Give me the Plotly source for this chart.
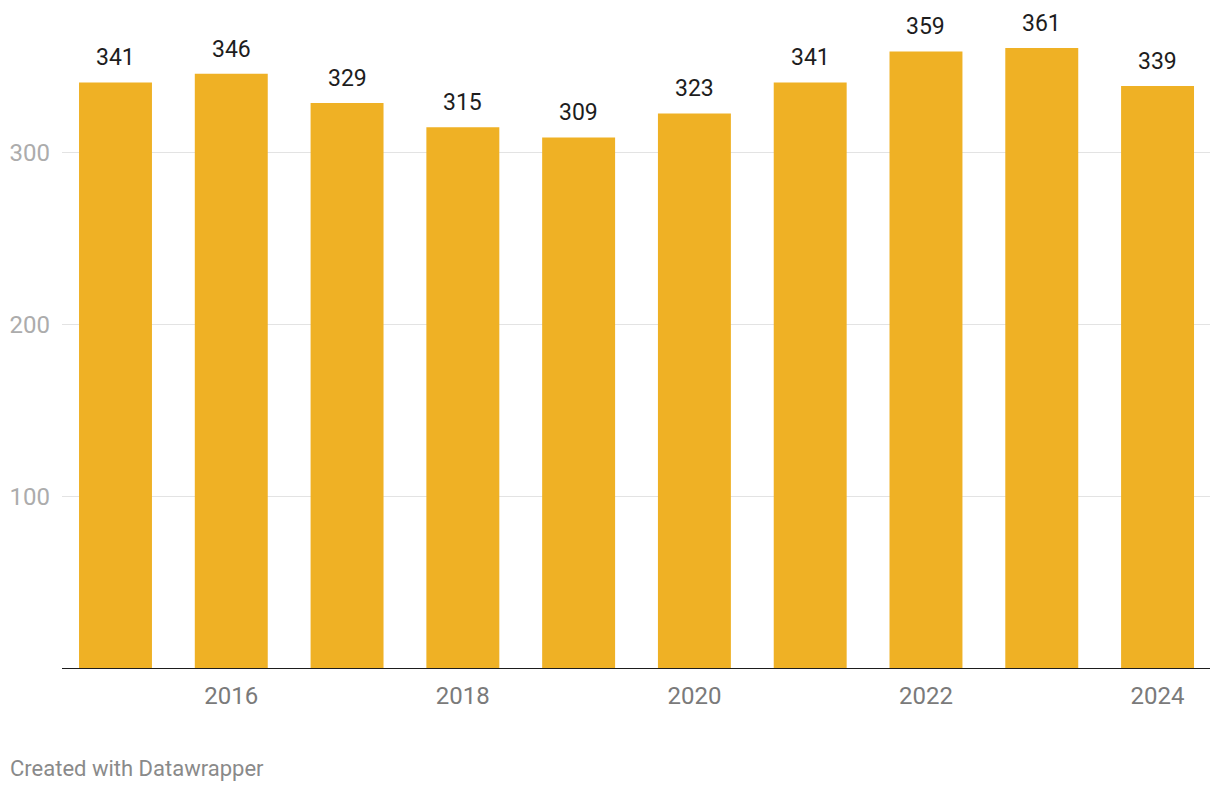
import plotly.graph_objects as go

years = [2015, 2016, 2017, 2018, 2019, 2020, 2021, 2022, 2023, 2024]
values = [341, 346, 329, 315, 309, 323, 341, 359, 361, 339]
x_tick_vals = [2016, 2018, 2020, 2022, 2024]
x_tick_text = ["2016", "2018", "2020", "2022", "2024"]
y_tick_vals = [100, 200, 300]
y_tick_text = ["100", "200", "300"]

BAR = "#efb125"
FONT = "Roboto, sans-serif"

fig = go.Figure()
fig.add_trace(go.Bar(x=years, y=values, marker=dict(color=BAR, line=dict(width=0)),
                     width=0.63, hoverinfo="skip"))

for xv, yv in zip(years, values):
    fig.add_annotation(x=xv, y=yv, text=str(yv), showarrow=False, yanchor="bottom",
                       yshift=9, font=dict(family=FONT, size=23, color="#1d1d1d"))

fig.add_annotation(xref="paper", yref="paper", x=0, y=0, xanchor="left", yanchor="middle",
                   text="Created with Datawrapper", showarrow=False,
                   xshift=-54, yshift=-99, font=dict(family=FONT, size=22, color="#8a8a8a"))

fig.update_layout(
    width=1220, height=792,
    margin=dict(l=62, r=10, t=9, b=123),
    paper_bgcolor="white", plot_bgcolor="white",
    showlegend=False,
    font=dict(family=FONT),
    xaxis=dict(range=[2015 - 0.462, 2024 + 0.453], tickvals=x_tick_vals, ticktext=x_tick_text,
               showgrid=False, zeroline=False, showline=False, ticks="",
               tickfont=dict(size=24, color="#7a7a7a"), ticklabelstandoff=10),
    yaxis=dict(range=[0, 383.7], tickvals=y_tick_vals, ticktext=y_tick_text,
               showgrid=True, gridcolor="#e3e3e3", gridwidth=1, zeroline=False, showline=False,
               ticks="", tickfont=dict(size=24, color="#acacac"), ticklabelstandoff=11),
)
fig.add_shape(type="line", xref="paper", yref="y", x0=0, x1=1, y0=0, y1=0,
              line=dict(color="#1d1d1d", width=2))

fig.write_html("out.html")
